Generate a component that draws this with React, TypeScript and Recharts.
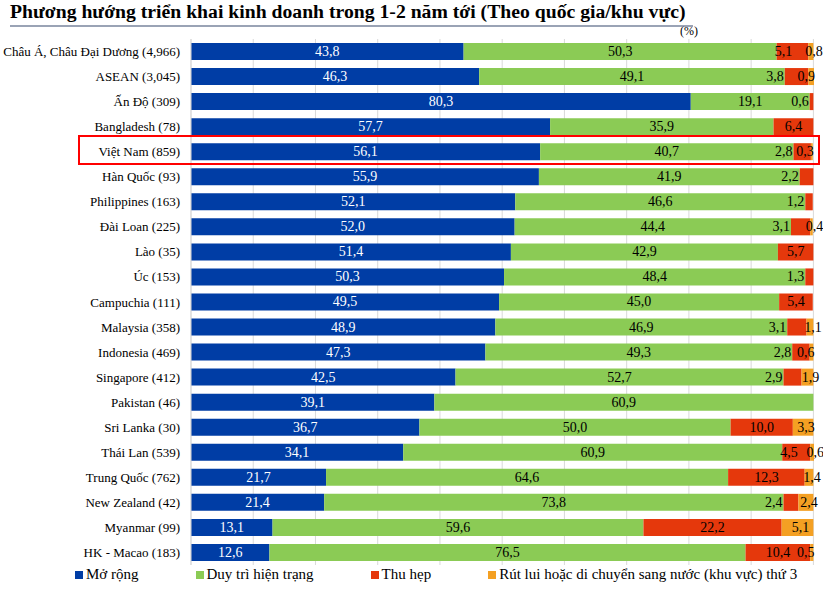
import React from "react";
import {
  BarChart,
  Bar,
  XAxis,
  YAxis,
  CartesianGrid,
  Legend,
  LabelList,
} from "recharts";

const regions = [
  "Châu Á, Châu Đại Dương (4,966)",
  "ASEAN (3,045)",
  "Ấn Độ (309)",
  "Bangladesh (78)",
  "Việt Nam (859)",
  "Hàn Quốc (93)",
  "Philippines (163)",
  "Đài Loan (225)",
  "Lào (35)",
  "Úc (153)",
  "Campuchia (111)",
  "Malaysia (358)",
  "Indonesia (469)",
  "Singapore (412)",
  "Pakistan (46)",
  "Sri Lanka (30)",
  "Thái Lan (539)",
  "Trung Quốc (762)",
  "New Zealand (42)",
  "Myanmar (99)",
  "HK - Macao (183)",
];

const expand = [43.8, 46.3, 80.3, 57.7, 56.1, 55.9, 52.1, 52.0, 51.4, 50.3, 49.5, 48.9, 47.3, 42.5, 39.1, 36.7, 34.1, 21.7, 21.4, 13.1, 12.6];
const maintain = [50.3, 49.1, 19.1, 35.9, 40.7, 41.9, 46.6, 44.4, 42.9, 48.4, 45.0, 46.9, 49.3, 52.7, 60.9, 50.0, 60.9, 64.6, 73.8, 59.6, 76.5];
const shrink = [5.1, 3.8, 0.6, 6.4, 2.8, 2.2, 1.2, 3.1, 5.7, 1.3, 5.4, 3.1, 2.8, 2.9, 0, 10.0, 4.5, 12.3, 2.4, 22.2, 10.4];
const withdraw = [0.8, 0.9, 0, 0, 0.3, 0, 0, 0.4, 0, 0, 0, 1.1, 0.6, 1.9, 0, 3.3, 0.6, 1.4, 2.4, 5.1, 0.5];

const gridTicks = [0, 10, 20, 30, 40, 50, 60, 70, 80, 90, 100];

const series = [
  { key: "expand", name: "Mở rộng", color: "#003DA5", label: "#ffffff" },
  { key: "maintain", name: "Duy trì hiện trạng", color: "#8BCB55", label: "#000000" },
  { key: "shrink", name: "Thu hẹp", color: "#E5380C", label: "#000000" },
  { key: "withdraw", name: "Rút lui hoặc di chuyển sang nước (khu vực) thứ 3", color: "#F4A023", label: "#000000" },
];

const data = regions.map((name, i) => ({
  name,
  expand: expand[i],
  maintain: maintain[i],
  shrink: shrink[i],
  withdraw: withdraw[i],
}));

const FONT = "'Liberation Serif', 'Times New Roman', serif";

const fmt = (v: number) => v.toFixed(1).replace(".", ",");

// shrink segment narrower than this (px) -> label sits to the left of it
const TINY = 25;
const NARROW = 33;

// Excel-ish placement: small segments get their label pushed off-centre
const makeLabel = (key: string, fill: string) => (props: any) => {
  const { x, y, width, height, value, index } = props;
  if (!value) return null;
  const cy = y + height / 2;
  let tx = x + width / 2;
  let anchor: "start" | "middle" | "end" = "middle";
  if (key === "shrink") {
    if (width < TINY) {
      tx = x - 1;
      anchor = "end";
    } else if (width < NARROW) {
      tx = x - 2;
      anchor = "start";
    }
  } else if (key === "withdraw") {
    // width of the red segment before this one, same scale
    const redW = (shrink[index] / value) * width;
    if (value < 1 && redW < TINY) {
      tx = x + width + 1;
      anchor = "end";
    } else {
      tx = x + width / 2 + 3;
    }
  }
  return (
    <text
      key={`${key}-${index}`}
      x={tx}
      y={cy}
      textAnchor={anchor}
      dominantBaseline="central"
      fill={fill}
      fontSize={14}
      fontFamily={FONT}
    >
      {fmt(Number(value))}
    </text>
  );
};

const CategoryTick = (props: any) => {
  const { x, y, payload } = props;
  return (
    <text x={x} y={y} textAnchor="end" dominantBaseline="central" fontSize={13} fill="#000" fontFamily={FONT}>
      {payload.value}
    </text>
  );
};

const renderLegend = () => (
  <div style={{ display: "flex", gap: 57, paddingLeft: 75, paddingTop: 1, fontFamily: FONT, fontSize: 15, color: "#000" }}>
    {series.map((s) => (
      <div key={s.key} style={{ display: "flex", alignItems: "center" }}>
        <span style={{ width: 8, height: 8, background: s.color, marginRight: 3, display: "inline-block" }} />
        <span>{s.name}</span>
      </div>
    ))}
  </div>
);

export default function App() {
  return (
    <div style={{ position: "absolute", left: 0, top: 0, width: 823, height: 593, background: "#fff", fontFamily: FONT }}>
      <div style={{ position: "absolute", left: 10, top: 0, fontSize: 19.7, fontWeight: "bold", whiteSpace: "nowrap", color: "#000" }}>
        Phương hướng triển khai kinh doanh trong 1-2 năm tới (Theo quốc gia/khu vực)
      </div>
      <div style={{ position: "absolute", left: 10, top: 25, width: 683, height: 2, background: "#9aa3b5" }} />
      <div style={{ position: "absolute", left: 680, top: 24, fontSize: 12, color: "#000" }}>(%)</div>
      <BarChart
        width={823}
        height={593}
        data={data}
        layout="vertical"
        margin={{ top: 39, right: 9, bottom: 0, left: 0 }}
        barSize={17}
      >
        <CartesianGrid horizontal={false} stroke="#d9d9d9" verticalValues={gridTicks} />
        <XAxis type="number" domain={[0, 100]} ticks={gridTicks} hide />
        <YAxis
          type="category"
          dataKey="name"
          width={191}
          tickLine={false}
          axisLine={{ stroke: "#d9d9d9" }}
          tick={<CategoryTick />}
          tickMargin={5}
        />
        <Legend verticalAlign="bottom" height={28} content={renderLegend} />
        {series.map((s) => (
          <Bar key={s.key} dataKey={s.key} name={s.name} stackId="a" fill={s.color} isAnimationActive={false}>
            <LabelList dataKey={s.key} content={makeLabel(s.key, s.label)} />
          </Bar>
        ))}
      </BarChart>
      <div style={{ position: "absolute", left: 78, top: 135, width: 738, height: 26, border: "2px solid #ff0000" }} />
    </div>
  );
}
